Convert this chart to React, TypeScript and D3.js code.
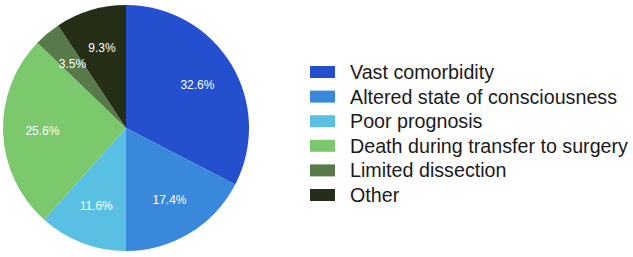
import * as d3 from 'd3'
import { useEffect, useRef } from 'react'

const categories = [
  'Vast comorbidity',
  'Altered state of consciousness',
  'Poor prognosis',
  'Death during transfer to surgery',
  'Limited dissection',
  'Other'
]
const values = [32.6, 17.4, 11.6, 25.6, 3.5, 9.3]
const colors = ['#2450cf', '#3a88db', '#5ac0e3', '#7cc96d', '#587a4a', '#252f17']

const W = 633
const H = 257

const App = () => {
  const ref = useRef<SVGSVGElement>(null)

  useEffect(() => {
    if (!ref.current) return
    const svg = d3.select(ref.current)
    svg.selectAll('*').remove()

    const cx = 126
    const cy = 128
    const radius = 123

    const pie = d3.pie<number>().sort(null).value(d => d)
    const arcs = pie(values)
    const arc = d3.arc<d3.PieArcDatum<number>>().innerRadius(0).outerRadius(radius)
    const labelArc = d3.arc<d3.PieArcDatum<number>>().innerRadius(radius * 0.68).outerRadius(radius * 0.68)

    const g = svg.append('g').attr('transform', `translate(${cx},${cy})`)

    g.selectAll('path')
      .data(arcs)
      .enter()
      .append('path')
      .attr('d', arc)
      .attr('fill', (d, i) => colors[i])

    g.selectAll('text')
      .data(arcs)
      .enter()
      .append('text')
      .attr('transform', d => `translate(${labelArc.centroid(d)})`)
      .attr('text-anchor', 'middle')
      .attr('dy', '0.35em')
      .style('font-family', '"Liberation Sans", Arial, sans-serif')
      .style('font-size', '12px')
      .style('fill', '#fff')
      .text(d => `${d.data.toFixed(1)}%`)

    // Legend
    const legend = svg.append('g').attr('transform', 'translate(310, 72)')
    const item = legend.selectAll('.legend-item')
      .data(categories)
      .enter()
      .append('g')
      .attr('class', 'legend-item')
      .attr('transform', (d, i) => `translate(0, ${i * 24.6})`)

    item.append('rect')
      .attr('x', 0)
      .attr('y', -6)
      .attr('width', 25)
      .attr('height', 12)
      .attr('fill', (d, i) => colors[i])

    item.append('text')
      .attr('x', 40)
      .attr('dy', '0.35em')
      .style('font-family', '"Liberation Sans", Arial, sans-serif')
      .style('font-size', '19.7px')
      .style('fill', '#1a1a1a')
      .text(d => d)
  }, [])

  return (
    <svg
      ref={ref}
      width={W}
      height={H}
      style={{ position: 'absolute', left: 0, top: 0, background: '#fff' }}
    />
  )
}

export default App
